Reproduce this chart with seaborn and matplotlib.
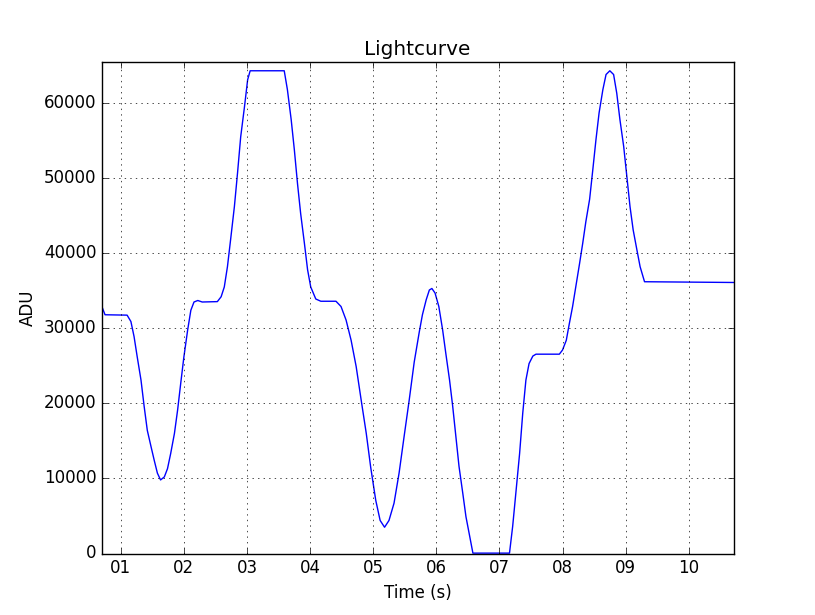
import matplotlib
matplotlib.use("Agg")
import matplotlib.pyplot as plt
import matplotlib.ticker as mticker
import pandas as pd
import seaborn as sns

time_s = [
    0.70, 0.75, 1.10, 1.16, 1.21, 1.26, 1.32, 1.37, 1.42, 1.48, 1.53, 1.58,
    1.63, 1.69, 1.74, 1.79, 1.85, 1.90, 1.95, 2.00, 2.06, 2.11, 2.16, 2.22,
    2.29, 2.53, 2.59, 2.64, 2.69, 2.74, 2.80, 2.85, 2.90, 2.96, 3.01, 3.05,
    3.59, 3.64, 3.70, 3.75, 3.80, 3.85, 3.91, 3.96, 4.01, 4.09, 4.17, 4.41,
    4.49, 4.57, 4.65, 4.73, 4.81, 4.89, 4.96, 5.04, 5.11, 5.18, 5.25, 5.33,
    5.41, 5.49, 5.57, 5.65, 5.73, 5.78, 5.84, 5.89, 5.93, 5.98, 6.04, 6.10,
    6.15, 6.21, 6.26, 6.31, 6.36, 6.42, 6.47, 6.52, 6.58, 7.16, 7.21, 7.26,
    7.32, 7.37, 7.42, 7.47, 7.53, 7.58, 7.95, 8.00, 8.06, 8.11, 8.16, 8.21,
    8.27, 8.32, 8.37, 8.43, 8.48, 8.53, 8.58, 8.64, 8.69, 8.75, 8.81, 8.86,
    8.91, 8.97, 9.02, 9.07, 9.12, 9.18, 9.23, 9.30, 10.71,
]
adu = [
    32900, 31800, 31750, 30900, 28900, 26200, 23100, 19600, 16400, 14200, 12400, 10700,
    9800, 10200, 11300, 13300, 16000, 19100, 22700, 26200, 29800, 32400, 33500, 33700,
    33500, 33550, 34200, 35500, 38200, 41800, 46200, 50700, 55500, 59500, 63100, 64300,
    64300, 61800, 57800, 53800, 49300, 45300, 41300, 37800, 35500, 33900, 33600, 33600,
    32900, 31100, 28400, 24900, 20400, 16000, 11500, 7100, 4400, 3500, 4400, 6700,
    10700, 15600, 20400, 25500, 29500, 31800, 33800, 35100, 35300, 34700, 32900, 29800,
    26700, 23100, 19600, 15600, 11600, 8000, 4900, 2700, 50, 50, 3600, 8000,
    13300, 18700, 23100, 25300, 26300, 26550, 26550, 27100, 28400, 30700, 32900, 35500,
    38600, 41300, 44200, 47200, 51100, 55100, 58700, 61800, 63800, 64300, 63800, 61300,
    57800, 54200, 50200, 46200, 43100, 40400, 38200, 36200, 36100,
]

def main():
    plt.style.use("classic")
    df = pd.DataFrame({"Time (s)": time_s, "ADU": adu})

    fig, ax = plt.subplots(figsize=(8.15, 6.15), dpi=100)
    fig.subplots_adjust(left=0.125, right=0.9, bottom=0.1, top=0.9)

    sns.lineplot(data=df, x="Time (s)", y="ADU", color="b", linewidth=1.0,
                 sort=False, estimator=None, ax=ax)

    ax.set_xlim(0.70, 10.71)
    ax.set_ylim(0, 65535)
    ax.xaxis.set_major_locator(mticker.FixedLocator(range(1, 11)))
    ax.xaxis.set_major_formatter(mticker.FuncFormatter(lambda v, p: "%02d" % round(v)))
    ax.yaxis.set_major_locator(mticker.MultipleLocator(10000))
    ax.grid(True)

    ax.set_title("Lightcurve")
    ax.set_xlabel("Time (s)")
    ax.set_ylabel("ADU")

    fig.savefig("out.png", dpi=100)
    plt.close(fig)

if __name__ == "__main__":
    main()
